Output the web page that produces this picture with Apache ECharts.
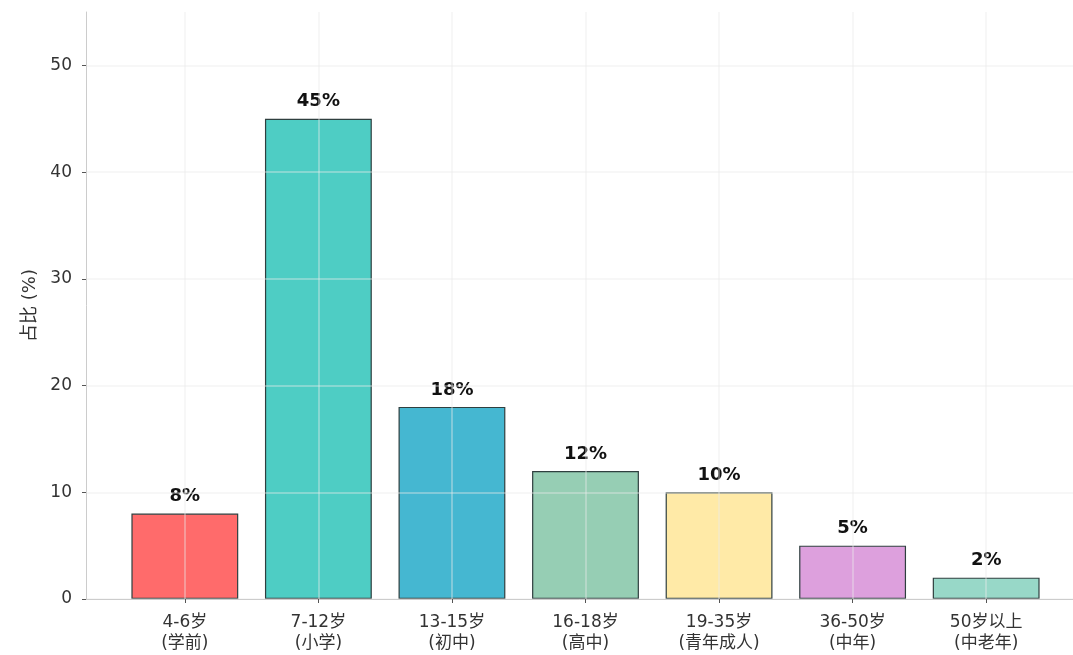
<!DOCTYPE html>
<html>
<head>
<meta charset="utf-8">
<script src="https://cdn.jsdelivr.net/npm/echarts@6/dist/echarts.min.js"></script>
<style>
  html, body { margin: 0; padding: 0; background: #fff; }
  #chart { width: 1073px; height: 655px; }
</style>
</head>
<body>
<div id="chart"></div>
<script>
// Age groups and their share (%)
const ageRanges = ['4-6岁', '7-12岁', '13-15岁', '16-18岁', '19-35岁', '36-50岁', '50岁以上'];
const stages = ['学前', '小学', '初中', '高中', '青年成人', '中年', '中老年'];
const shares = [8, 45, 18, 12, 10, 5, 2];
const yTicks = [0, 10, 20, 30, 40, 50];

const palette = ['#FF6B6B', '#4ECDC4', '#45B7D1', '#96CEB4', '#FFEAA7', '#DDA0DD', '#98D8C8'];
const FONT = '"DejaVu Sans", "Noto Sans CJK SC", sans-serif';
const positions = ageRanges.map((_, i) => i);
const gridLine = { color: 'rgba(236,236,236,0.5)', width: 1.5 };

const chart = echarts.init(document.getElementById('chart'), null, { renderer: 'canvas' });

chart.setOption({
  backgroundColor: '#ffffff',
  animation: false,
  textStyle: { fontFamily: FONT },
  // plot area runs a little past the right edge of the canvas
  grid: { left: 86, width: 999, top: 12, bottom: 56, containLabel: false, outerBoundsMode: 'none' },
  xAxis: {
    type: 'value',
    min: -0.74,
    max: ageRanges.length - 1 + 0.74,
    z: 5,
    axisLine: { show: true, onZero: false, lineStyle: { color: '#cccccc', width: 1 } },
    axisTick: { show: true, customValues: positions, length: 4, lineStyle: { color: '#555' } },
    axisLabel: {
      customValues: positions,
      color: '#333',
      fontSize: 17,
      lineHeight: 21,
      margin: 13,
      fontFamily: FONT,
      formatter: v => ageRanges[Math.round(v)] + '\n(' + stages[Math.round(v)] + ')'
    },
    splitLine: { show: true, customValues: positions, lineStyle: gridLine }
  },
  yAxis: {
    type: 'value',
    min: 0,
    max: 55,
    interval: 10,
    z: 5,
    name: '占比 (%)',
    nameLocation: 'middle',
    nameGap: 46,
    nameRotate: 90,
    nameTextStyle: { fontSize: 18, color: '#333', fontFamily: FONT },
    axisLine: { show: true, onZero: false, lineStyle: { color: '#cccccc', width: 1 } },
    axisTick: { show: true, customValues: yTicks, length: 4, lineStyle: { color: '#555' } },
    axisLabel: { customValues: yTicks, color: '#333', fontSize: 17, margin: 14, fontFamily: FONT },
    splitLine: { show: true, customValues: yTicks, lineStyle: gridLine }
  },
  series: [{
    type: 'bar',
    barWidth: '80%',
    z: 2,
    data: shares.map((v, i) => ({
      value: [i, v],
      itemStyle: { color: palette[i], borderColor: '#2f3f3f', borderWidth: 1.2 }
    })),
    label: {
      show: true,
      position: 'top',
      distance: 8,
      fontSize: 18,
      fontWeight: 'bold',
      color: '#111',
      fontFamily: FONT,
      formatter: p => p.value[1] + '%'
    }
  }]
});
</script>
</body>
</html>
